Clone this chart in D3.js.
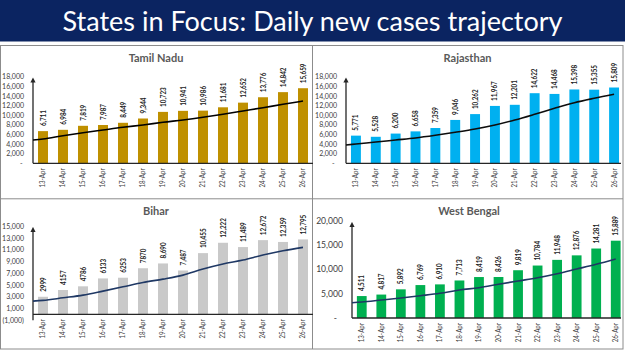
<!DOCTYPE html>
<html><head><meta charset="utf-8">
<script src="https://cdn.jsdelivr.net/npm/d3@7"></script>
<style>
html,body{margin:0;padding:0;background:#fff;}
svg{display:block;font-family:Lato,"Open Sans",sans-serif;}
</style></head>
<body><svg id="chart" width="625" height="351"></svg>
<script>
// ---------- DATA ----------
const dates = ["13-Apr","14-Apr","15-Apr","16-Apr","17-Apr","18-Apr","19-Apr","20-Apr","21-Apr","22-Apr","23-Apr","24-Apr","25-Apr","26-Apr"];

const tamilNaduCases = [6711,6984,7819,7987,8449,9344,10723,10941,10986,11681,12652,13776,14842,15659];
const tamilNaduTrend = [5070,5760,6380,6950,7510,7990,8550,9030,9590,10220,10910,11600,12310,12990];
const tamilNaduTrendStart = 4860;

const rajasthanCases = [5771,5528,6200,6658,7359,9046,10262,11967,12201,14622,14468,15398,15355,15809];
const rajasthanTrend = [4030,4440,4860,5280,5840,6470,7150,7990,9030,10220,11470,12640,13560,14390];
const rajasthanTrendStart = 3820;

const biharCases = [2999,4157,4786,6133,6253,7870,8690,7487,10455,12222,11489,12672,12359,12795];
const biharLabels = ["2999","4157","4786","6133","6253","7870","8,690","7,487","10,455","12,222","11,489","12,672","12,359","12,795"];
const biharTrend = [2380,2820,3280,3970,4700,5450,6020,6700,7730,8590,9270,10130,10860,11440];
const biharTrendStart = 2260;

const westBengalCases = [4511,4817,5892,6769,6910,7713,8419,8426,9819,10784,11948,12876,14281,15889];
const westBengalTrend = [3290,3700,4110,4580,5080,5760,6230,6930,7610,8280,9110,10070,11040,12130];
const westBengalTrendStart = 3150;

const tnTicks = [0,2000,4000,6000,8000,10000,12000,14000,16000,18000];
const rjTicks = [0,2000,4000,6000,8000,10000,12000,14000,16000,18000];
const bhTicks = [-1000,1000,3000,5000,7000,9000,11000,13000,15000];
const wbTicks = [0,5000,10000,15000,20000];

const mainTitle = "States in Focus: Daily new cases trajectory";

// ---------- DRAW ----------
const svg = d3.select("#chart");
const fmt = d3.format(",");
const numLabel = v => fmt(v);
const tickFmt = v => v < 0 ? "(" + fmt(-v) + ")" : (v === 0 ? "-" : fmt(v));

// title bar
svg.append("rect").attr("x",0).attr("y",0).attr("width",625).attr("height",41.5).attr("fill","#0b2461");
svg.append("text").attr("x",312.5).attr("y",30.5).attr("text-anchor","middle")
  .attr("fill","#fff").attr("font-size",26).attr("font-family","Lato, 'Open Sans', sans-serif")
  .attr("textLength",500).attr("lengthAdjust","spacingAndGlyphs")
  .text(mainTitle);

// panel frames
const frame = svg.append("g").attr("stroke","#8c8c8c").attr("stroke-width",1).attr("fill","none");
frame.append("rect").attr("x",0.5).attr("y",45.5).attr("width",622.5).attr("height",303.5);
frame.append("line").attr("x1",312.5).attr("x2",312.5).attr("y1",45.5).attr("y2",349);
frame.append("line").attr("x1",0.5).attr("x2",623).attr("y1",198.8).attr("y2",198.8);

svg.append("defs").append("marker").attr("id","arrow").attr("viewBox","0 0 10 10")
  .attr("refX",5).attr("refY",5).attr("markerWidth",4).attr("markerHeight",5).attr("orient","auto")
  .append("path").attr("d","M0,0 L10,5 L0,10 z").attr("fill","#262626");

const panels = [
  {title:"Tamil Nadu", values:tamilNaduCases, labels:tamilNaduCases.map(numLabel), trend:tamilNaduTrend, trendStart:tamilNaduTrendStart,
   color:"#BF9000", line:"#000000", x0:33, x1:313, yDomain:[0,18000], yRange:[163.3,77], ticks:tnTicks,
   titleX:156, titleY:62, tickSize:7, tickGap:9, zeroShift:-1.5, axisTop:77},
  {title:"Rajasthan", values:rajasthanCases, labels:rajasthanCases.map(numLabel), trend:rajasthanTrend, trendStart:rajasthanTrendStart,
   color:"#00B0F0", line:"#0d0d0d", x0:346, x1:624, yDomain:[0,18000], yRange:[163.3,77], ticks:rjTicks,
   titleX:467.5, titleY:62, tickSize:7, tickGap:9, zeroShift:-2.5, axisTop:77},
  {title:"Bihar", values:biharCases, labels:biharLabels, trend:biharTrend, trendStart:biharTrendStart,
   color:"#C9C9C9", line:"#1F3864", x0:33, x1:313, yDomain:[-1000,15000], yRange:[320.2,226.5], ticks:bhTicks,
   titleX:156, titleY:215, tickSize:7, tickGap:9, zeroShift:0, axisTop:226.5},
  {title:"West Bengal", values:westBengalCases, labels:westBengalCases.map(numLabel), trend:westBengalTrend, trendStart:westBengalTrendStart,
   color:"#00B050", line:"#1F3864", x0:352, x1:625.5, yDomain:[0,20000], yRange:[318,220.7], ticks:wbTicks,
   titleX:469, titleY:215, tickSize:8.6, tickGap:9, zeroShift:-6, axisTop:221.5}
];

panels.forEach(p => {
  const g = svg.append("g");
  const x = d3.scaleBand().domain(dates).range([p.x0, p.x1]).paddingInner(0.5).paddingOuter(0.25);
  const y = d3.scaleLinear().domain(p.yDomain).range(p.yRange);
  const y0 = y(0);

  // title
  g.append("text").attr("x",p.titleX).attr("y",p.titleY).attr("text-anchor","middle")
    .attr("font-size",11).attr("font-weight","bold").attr("fill","#595959").text(p.title);

  // y tick labels
  g.selectAll(".yt").data(p.ticks).join("text")
    .attr("x", d => p.x0 - p.tickGap + (d === 0 ? p.zeroShift : 0))
    .attr("y", d => y(d)).attr("dy","0.35em").attr("text-anchor","end")
    .attr("font-size",p.tickSize).attr("fill","#404040").text(tickFmt);

  // bars
  g.selectAll(".bar").data(p.values).join("rect")
    .attr("x",(d,i)=>x(dates[i])).attr("width",x.bandwidth())
    .attr("y",d=>y(d)).attr("height",d=>y0-y(d)).attr("fill",p.color);

  // data labels
  g.selectAll(".dl").data(p.values).join("text")
    .attr("transform",(d,i)=>`translate(${x(dates[i])+x.bandwidth()/2},${y(d)-5}) rotate(-90) scale(0.86,1)`)
    .attr("dy","0.35em").attr("text-anchor","start")
    .attr("font-size",7.3).attr("font-weight","bold").attr("fill","#1a1a1a")
    .text((d,i)=>p.labels[i]);

  // x labels
  const xl = y0 + 5;
  g.selectAll(".xl").data(dates).join("text")
    .attr("transform",d=>`translate(${x(d)+x.bandwidth()/2},${xl}) rotate(-90) scale(0.88,1)`)
    .attr("dy","0.35em").attr("text-anchor","end")
    .attr("font-size",7).attr("fill","#404040").text(d=>d);

  // axes
  g.append("line").attr("x1",p.x0).attr("x2",Math.min(p.x1,621)).attr("y1",y0).attr("y2",y0)
    .attr("stroke","#262626").attr("stroke-width",1.3);
  g.append("line").attr("x1",p.x0).attr("x2",p.x0).attr("y1",Math.max(y0, p.yRange[0])).attr("y2",p.axisTop+3)
    .attr("stroke","#262626").attr("stroke-width",1.3).attr("marker-end","url(#arrow)");

  // trend line
  const pts = [[p.x0, y(p.trendStart)]].concat(p.trend.map((v,i)=>[x(dates[i])+x.bandwidth()/2, y(v)]));
  g.append("path").attr("d", d3.line().curve(d3.curveMonotoneX)(pts))
    .attr("fill","none").attr("stroke",p.line).attr("stroke-width",1.6);
});
</script>
</body></html>
